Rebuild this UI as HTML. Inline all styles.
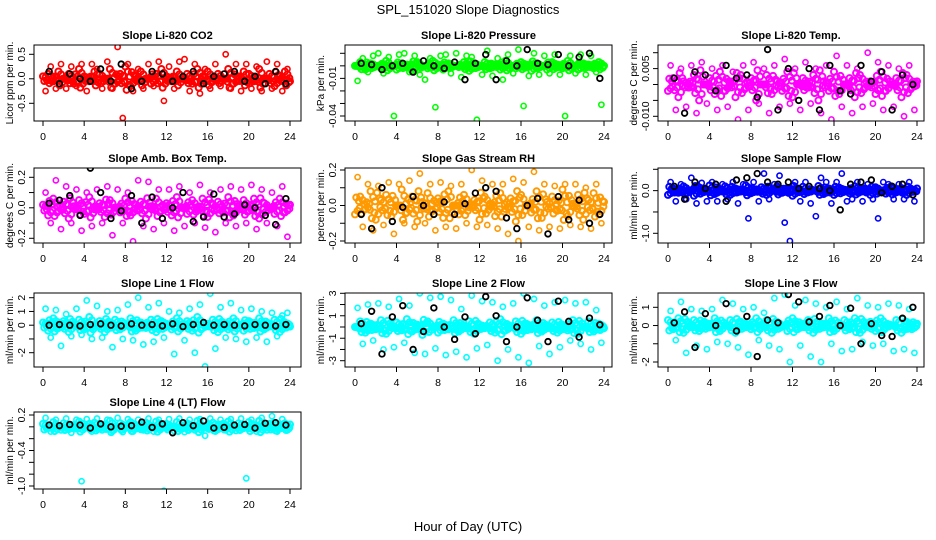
<!DOCTYPE html>
<html><head><meta charset="utf-8"><style>
html,body{margin:0;padding:0;background:#fff;}
svg{display:block;font-family:"Liberation Sans",sans-serif;}
</style></head><body>
<svg id="chart" width="936" height="540" viewBox="0 0 936 540">
<text x="468" y="14" text-anchor="middle" font-size="13">SPL_151020  Slope Diagnostics</text>
<text x="468" y="531" text-anchor="middle" font-size="13">Hour of Day (UTC)</text>
</svg>
<script>
const hrsBand=[0,0.5,1,1.5,2,2.5,3,3.5,4,4.5,5,5.5,6,6.5,7,7.5,8,8.5,9,9.5,10,10.5,11,11.5,12,12.5,13,13.5,14,14.5,15,15.5,16,16.5,17,17.5,18,18.5,19,19.5,20,20.5,21,21.5,22,22.5,23,23.5,24];
const hrsOut=[0.25,0.75,1.25,1.75,2.25,2.75,3.25,3.75,4.25,4.75,5.25,5.75,6.25,6.75,7.25,7.75,8.25,8.75,9.25,9.75,10.25,10.75,11.25,11.75,12.25,12.75,13.25,13.75,14.25,14.75,15.25,15.75,16.25,16.75,17.25,17.75,18.25,18.75,19.25,19.75,20.25,20.75,21.25,21.75,22.25,22.75,23.25,23.75];
const hrsBlack=[0.6,1.6,2.6,3.6,4.6,5.6,6.6,7.6,8.6,9.6,10.6,11.6,12.6,13.6,14.6,15.6,16.6,17.6,18.6,19.6,20.6,21.6,22.6,23.6];
const xTicks=[0,4,8,12,16,20,24];

const co2Band=[0.05,0.1,-0.05,0.15,0.0,0.1,-0.1,0.2,0.05,-0.05,0.15,0.1,0.0,0.2,-0.1,0.1,0.25,-0.15,0.05,0.15,0.0,-0.1,0.1,0.2,0.05,-0.05,0.15,0.0,0.1,-0.1,0.2,0.05,0.15,-0.05,0.1,0.0,0.2,-0.1,0.05,0.15,0.1,-0.05,0.2,0.0,0.1,-0.15,0.05,0.15,-0.05];
const co2Out=[-0.25,0.25,-0.2,0.3,-0.2,0.25,-0.15,0.3,-0.25,0.3,0.2,-0.2,0.35,-0.2,0.65,-0.8,0.3,-0.25,0.2,-0.2,0.3,-0.15,0.35,-0.45,0.25,-0.2,0.35,0.4,-0.25,0.3,-0.3,0.2,-0.2,0.3,-0.15,0.5,-0.2,0.3,-0.25,0.3,-0.2,0.25,-0.25,0.35,-0.2,0.3,-0.25,0.2];
const co2Black=[0.15,-0.1,0.1,0.0,-0.05,0.2,-0.05,0.3,-0.2,-0.05,0.15,0.1,-0.05,0.05,0.15,-0.1,0.05,0.1,0.15,-0.05,0.05,-0.1,0.15,-0.1];

const presBand=[0.0,0.003,-0.003,0.002,0.0,-0.002,0.004,0.0,-0.003,0.002,0.001,-0.004,0.003,0.0,-0.002,0.004,0.001,-0.003,0.002,0.0,-0.001,0.003,-0.004,0.002,0.0,0.003,-0.002,0.001,-0.003,0.004,0.0,-0.002,0.003,0.001,-0.004,0.002,0.0,-0.003,0.003,0.001,-0.002,0.004,0.0,-0.003,0.002,0.001,-0.002,0.003,0.0];
const presOut=[-0.012,0.006,-0.005,0.008,0.01,-0.006,0.007,-0.04,0.009,0.01,-0.005,0.008,-0.007,-0.011,0.006,-0.033,0.008,0.009,-0.006,0.01,-0.009,0.008,0.007,-0.043,-0.007,0.012,-0.008,0.006,-0.011,0.009,-0.006,0.013,-0.032,-0.008,0.01,-0.007,0.008,-0.006,0.009,-0.007,-0.04,0.008,-0.006,0.009,-0.007,0.008,-0.005,-0.031];
const presBlack=[0.002,0.001,-0.003,0.0,0.002,-0.005,0.004,0.0,-0.002,0.003,-0.011,0.002,0.009,-0.011,0.004,0.0,0.013,0.002,0.001,0.009,0.0,0.007,0.01,-0.01];

const tempBand=[-0.002,0.002,-0.004,0.001,-0.001,0.003,-0.005,0.0,0.002,-0.003,0.004,-0.002,0.001,-0.004,0.003,-0.001,0.002,-0.005,0.0,0.003,-0.003,0.001,-0.002,0.004,-0.004,0.0,0.002,-0.001,0.003,-0.005,0.001,-0.002,0.004,-0.003,0.0,0.002,-0.004,0.003,-0.001,0.001,-0.003,0.004,-0.002,0.0,0.002,-0.004,0.003,-0.001,0.001];
const tempOut=[0.006,-0.008,0.005,-0.007,0.006,-0.009,0.007,-0.006,0.005,-0.008,0.006,-0.007,0.004,-0.011,0.006,-0.008,0.007,-0.006,0.005,-0.009,0.006,-0.007,0.008,-0.006,0.005,-0.008,0.007,-0.006,0.005,-0.009,0.006,-0.011,0.009,-0.007,0.006,-0.009,0.005,-0.007,0.01,-0.006,0.007,-0.008,0.006,-0.007,0.005,-0.01,0.006,-0.008];
const tempBlack=[0.002,-0.009,0.004,0.003,-0.002,0.006,0.002,0.003,-0.004,0.011,-0.008,0.005,-0.005,0.005,-0.008,0.006,-0.002,-0.003,0.006,0.001,0.004,-0.008,0.003,0.0];

const ambBand=[0.02,-0.05,0.06,-0.02,0.04,-0.07,0.01,0.05,-0.04,0.07,-0.01,0.03,-0.06,0.05,0.0,-0.03,0.06,-0.05,0.02,0.04,-0.07,0.01,0.06,-0.02,0.03,-0.05,0.07,0.0,-0.04,0.05,-0.01,0.06,-0.06,0.02,0.04,-0.03,0.07,-0.05,0.01,0.05,-0.02,0.06,-0.07,0.03,0.0,-0.04,0.06,-0.03,0.02];
const ambOut=[0.1,-0.1,0.18,-0.14,0.14,-0.1,0.12,-0.15,0.1,-0.12,0.12,-0.1,0.14,-0.18,0.12,-0.1,0.1,-0.22,0.18,-0.12,0.17,-0.14,0.12,-0.1,0.12,-0.15,0.14,-0.12,0.1,-0.1,0.15,-0.13,0.1,-0.16,0.12,-0.1,0.14,-0.12,0.12,-0.1,0.15,-0.14,0.12,-0.1,0.1,-0.12,0.14,-0.19];
const ambBlack=[0.03,0.05,0.08,-0.05,0.26,0.1,-0.07,-0.02,0.08,-0.1,0.07,-0.07,0.0,0.1,-0.09,-0.06,0.09,-0.06,-0.04,0.02,0.0,-0.05,-0.11,0.06];

const rhBand=[-0.05,0.05,-0.02,0.08,-0.08,0.03,0.06,-0.06,0.0,0.09,-0.04,0.05,-0.09,0.02,0.07,-0.03,0.04,-0.07,0.08,0.0,-0.05,0.06,-0.01,0.03,-0.08,0.05,0.01,-0.06,0.07,-0.02,0.04,-0.09,0.06,0.0,-0.04,0.08,-0.07,0.02,0.05,-0.03,0.09,-0.06,0.01,0.06,-0.08,0.03,0.07,-0.05,0.02];
const rhOut=[0.16,-0.12,0.12,-0.14,0.11,-0.11,0.13,-0.16,0.12,-0.1,0.14,-0.12,0.18,-0.1,0.12,-0.14,0.13,-0.12,0.11,-0.13,0.12,-0.1,0.2,-0.12,0.14,-0.11,0.12,-0.13,0.12,-0.16,0.15,-0.2,0.13,-0.12,0.19,-0.14,0.12,-0.12,0.11,-0.13,0.12,-0.11,0.12,-0.12,0.1,-0.13,0.12,-0.1];
const rhBlack=[-0.05,-0.13,0.1,-0.09,-0.01,0.05,0.0,-0.05,0.02,-0.05,0.01,0.07,0.1,0.08,-0.07,-0.13,0.0,0.04,-0.16,0.05,-0.08,0.03,-0.1,-0.05];

const sampBand=[-0.1,0.05,-0.05,0.1,0.0,-0.12,0.08,-0.03,0.12,-0.08,0.02,0.1,-0.1,0.05,-0.02,0.12,-0.06,0.03,0.08,-0.1,0.0,0.1,-0.05,0.06,-0.12,0.04,0.09,-0.04,0.0,0.11,-0.08,0.05,-0.1,0.07,0.02,-0.06,0.1,-0.03,0.05,-0.1,0.08,0.0,-0.07,0.1,-0.04,0.06,-0.1,0.03,0.05];
const sampOut=[0.2,-0.25,0.15,-0.2,0.3,-0.3,0.18,-0.25,0.2,-0.25,0.15,-0.2,0.2,-0.3,0.15,-0.65,0.2,-0.25,0.4,-0.2,0.15,0.35,-0.75,-1.18,0.2,-0.25,0.2,-0.3,-0.6,0.3,0.2,-0.3,0.2,0.4,-0.25,-0.2,0.2,-0.25,0.15,-0.2,-0.65,0.2,0.15,-0.2,0.15,-0.2,0.2,-0.25];
const sampBlack=[0.1,-0.2,0.2,0.05,0.15,-0.25,0.25,0.3,0.4,0.2,0.15,0.2,0.05,0.1,0.05,0.0,-0.45,0.15,0.2,0.25,-0.05,0.1,0.15,-0.1];

const l1Band=[0.2,-0.4,0.5,-0.2,0.3,-0.5,0.1,0.4,-0.3,0.6,-0.1,0.3,-0.5,0.2,0.4,-0.3,0.0,0.5,-0.4,0.2,-0.2,0.4,-0.5,0.3,0.1,-0.3,0.5,-0.1,0.3,-0.4,0.6,-0.2,0.1,0.4,-0.5,0.2,-0.3,0.5,0.0,-0.4,0.3,-0.2,0.5,-0.3,0.1,0.4,-0.5,0.2,-0.1];
const l1Out=[1.2,-0.9,1.1,-1.5,0.8,-0.8,1.2,-0.7,1.8,-1.0,1.4,-0.9,1.0,-1.6,1.1,-1.0,1.5,-1.1,2.0,-1.4,1.3,-1.2,1.6,-0.9,1.0,-2.1,0.9,-1.1,1.2,-2.0,1.5,-3.0,2.3,-1.7,1.3,-0.9,1.6,-1.0,1.1,-1.2,1.2,-0.9,1.0,-1.2,0.9,-0.8,0.7,0.9];
const l1Black=[0.0,0.05,0.0,-0.05,0.05,0.1,0.0,-0.05,0.1,0.0,0.05,-0.05,0.1,-0.1,0.05,0.2,0.0,0.05,0.0,-0.05,0.05,0.0,-0.05,0.05];

const l2Band=[0.0,0.5,-0.5,0.3,-0.2,0.6,-0.6,0.1,0.4,-0.3,0.7,-0.4,0.2,-0.7,0.5,0.0,-0.5,0.3,-0.2,0.6,-0.4,0.1,0.5,-0.6,0.2,-0.1,0.4,-0.5,0.7,-0.3,0.0,0.5,-0.6,0.3,-0.2,0.6,-0.4,0.1,0.4,-0.5,0.2,-0.3,0.6,-0.6,0.0,0.5,-0.4,0.3,-0.1];
const l2Out=[1.7,-1.5,2.0,-1.2,2.1,-2.0,1.8,-1.8,2.5,-1.4,1.9,-2.3,3.0,-2.4,2.6,-1.9,2.7,-2.5,2.4,-2.2,1.6,-2.7,2.8,-1.9,2.3,-1.6,2.2,-3.0,1.8,-2.0,2.1,-2.7,3.0,-3.2,2.5,-1.7,1.9,-2.4,2.2,-1.8,2.4,-1.2,2.1,-1.5,2.2,-2.0,1.5,-1.4];
const l2Black=[0.3,1.4,-2.4,0.9,1.9,-2.0,-0.4,1.7,0.0,-1.1,0.9,-0.6,2.7,1.0,-1.3,0.0,2.6,0.6,-1.3,2.3,0.5,-0.9,0.8,0.2];

const l3Band=[0.3,-0.2,0.4,-0.4,0.1,0.3,-0.3,0.2,-0.1,0.4,-0.3,0.0,0.3,-0.4,0.2,0.1,-0.2,0.4,-0.1,0.3,-0.4,0.2,0.0,-0.3,0.4,-0.2,0.1,0.3,-0.4,0.2,-0.1,0.4,-0.3,0.0,0.3,-0.2,0.4,-0.4,0.1,0.2,-0.3,0.4,-0.1,0.0,0.3,-0.4,0.2,-0.2,0.1];
const l3Out=[0.8,-0.8,1.3,-1.5,0.9,-1.1,0.8,-1.3,0.9,-0.9,1.4,-1.0,1.2,-1.2,0.9,-1.6,1.0,-0.8,0.7,-1.1,1.5,-1.3,1.7,-2.0,1.1,-1.1,1.4,-1.7,1.2,-2.0,1.0,-1.0,1.3,-1.4,0.9,-1.3,1.5,-0.9,1.1,-1.1,1.0,-1.0,1.2,-1.4,1.1,-1.3,0.9,-1.5];
const l3Black=[0.15,0.75,-1.2,0.65,0.0,1.2,-0.3,0.5,-1.7,0.3,0.15,1.7,1.3,0.2,0.5,1.1,0.0,0.95,-1.0,0.1,-0.55,-0.6,0.4,1.0];

const l4Band=[0.05,-0.02,0.08,0.0,0.06,-0.04,0.03,0.09,-0.01,0.05,0.07,-0.03,0.04,0.1,0.0,0.06,-0.02,0.08,0.03,-0.04,0.07,0.01,0.09,-0.02,0.05,0.0,0.08,-0.03,0.06,0.02,0.1,-0.01,0.04,0.07,-0.04,0.05,0.09,0.0,0.06,-0.02,0.08,0.03,0.1,-0.01,0.05,0.07,-0.03,0.06,0.04];
const l4Out=[0.15,-0.08,0.12,-0.06,0.14,-0.1,0.12,-0.92,0.13,-0.08,0.14,-0.06,0.12,-0.07,0.15,-0.09,0.13,-0.08,0.12,-0.06,0.14,-0.08,0.12,-1.08,0.13,-0.07,0.14,-0.09,0.12,-0.06,0.13,-0.15,0.14,-0.08,0.12,-0.06,0.13,-0.07,0.14,-0.87,0.12,-0.08,0.15,-0.06,0.18,-0.08,0.13,-0.06];
const l4Black=[0.03,0.02,0.04,0.03,-0.02,0.05,0.0,0.01,0.02,0.08,-0.01,0.05,-0.1,0.07,0.02,0.1,-0.02,-0.01,0.03,0.04,-0.02,0.06,0.07,0.03];

const NS="http://www.w3.org/2000/svg";
const svg=document.getElementById('chart');
function mk(tag,attrs,parent){const e=document.createElementNS(NS,tag);for(const k in attrs)e.setAttribute(k,attrs[k]);(parent||svg).appendChild(e);return e;}
const cols=[{l:34,r:301,x0:43,x24:290,ylab:9},{l:345,r:612,x0:355,x24:604,ylab:320},{l:658,r:924,x0:668,x24:917,ylab:633}];
const rows=[{t:45,b:121},{t:168,b:243},{t:293,b:367},{t:412,b:489}];
const panels=[
 {id:'co2',c:0,r:0,title:'Slope Li-820 CO2',ylab:'Licor ppm per min.',col:'#ff0000',band:co2Band,out:co2Out,blk:co2Black,v1:0.5,p1:54.3,v2:-0.5,p2:103.3,ticks:[0.5,0,-0.5],labs:['0.5','0.0','-0.5']},
 {id:'pressure',c:1,r:0,title:'Slope Li-820 Pressure',ylab:'kPa per min.',col:'#00ff00',band:presBand,out:presOut,blk:presBlack,v1:0.01,p1:53.3,v2:-0.04,p2:116,ticks:[0.01,0,-0.01,-0.02,-0.03,-0.04],labs:['','','-0.01','','','-0.04']},
 {id:'temp',c:2,r:0,title:'Slope Li-820 Temp.',ylab:'degrees C per min.',col:'#ff00ff',band:tempBand,out:tempOut,blk:tempBlack,v1:0.01,p1:52.7,v2:-0.01,p2:116.3,ticks:[0.01,0.005,0,-0.005,-0.01],labs:['','0.005','','','-0.010']},
 {id:'amb-box-temp',c:0,r:1,title:'Slope Amb. Box Temp.',ylab:'degrees C per min.',col:'#ff00ff',band:ambBand,out:ambOut,blk:ambBlack,v1:0.2,p1:177.3,v2:-0.2,p2:238.3,ticks:[0.2,0.1,0,-0.1,-0.2],labs:['0.2','','0.0','','-0.2']},
 {id:'gas-stream-rh',c:1,r:1,title:'Slope Gas Stream RH',ylab:'percent per min.',col:'#ff9900',band:rhBand,out:rhOut,blk:rhBlack,v1:0.2,p1:170,v2:-0.2,p2:241,ticks:[0.2,0.1,0,-0.1,-0.2],labs:['0.2','','0.0','','-0.2']},
 {id:'sample-flow',c:2,r:1,title:'Slope Sample Flow',ylab:'ml/min per min.',col:'#0000ff',band:sampBand,out:sampOut,blk:sampBlack,v1:0.5,p1:169.3,v2:-1,p2:233.3,ticks:[0.5,0,-0.5,-1],labs:['','0.0','','-1.0']},
 {id:'line1-flow',c:0,r:2,title:'Slope Line 1 Flow',ylab:'ml/min per min.',col:'#00ffff',band:l1Band,out:l1Out,blk:l1Black,v1:2,p1:297.7,v2:-2,p2:352.7,ticks:[2,1,0,-1,-2],labs:['2','1','0','','-2']},
 {id:'line2-flow',c:1,r:2,title:'Slope Line 2 Flow',ylab:'ml/min per min.',col:'#00ffff',band:l2Band,out:l2Out,blk:l2Black,v1:3,p1:293.3,v2:-3,p2:360.7,ticks:[3,2,1,0,-1,-2,-3],labs:['3','','1','','-1','','-3']},
 {id:'line3-flow',c:2,r:2,title:'Slope Line 3 Flow',ylab:'ml/min per min.',col:'#00ffff',band:l3Band,out:l3Out,blk:l3Black,v1:1,p1:307.3,v2:-2,p2:362,ticks:[1,0,-1,-2],labs:['1','0','','-2']},
 {id:'line4-flow',c:0,r:3,title:'Slope Line 4 (LT) Flow',ylab:'ml/min per min.',col:'#00ffff',band:l4Band,out:l4Out,blk:l4Black,v1:0.2,p1:415,v2:-1.0,p2:486,ticks:[0.2,0,-0.2,-0.4,-0.6,-0.8,-1.0],labs:['0.2','','','-0.4','','','-1.0']}
];
// band replicas: hour offset and value scale applied to each band value (dense overlapping band)
const bandPasses=[[0,1],[0.125,-0.9],[0.25,0.6],[0.375,-0.5],[-0.06,-0.3]];
panels.forEach(p=>{
 const C=cols[p.c],R=rows[p.r];
 const xs=h=>C.x0+(C.x24-C.x0)*h/24;
 const ys=v=>p.p1+(p.p2-p.p1)*(v-p.v1)/(p.v2-p.v1);
 const g=mk('g',{});
 
 
 const clip=mk('clipPath',{id:'clip-'+p.id},g);
 mk('rect',{x:C.l,y:R.t,width:C.r-C.l,height:R.b-R.t},clip);
 const pts=mk('g',{'clip-path':'url(#clip-'+p.id+')'},g);
 
 
 bandPasses.forEach(bp=>{
  p.band.forEach((v,i)=>{const h=hrsBand[i]+bp[0];if(h<0||h>24)return;
   const c=mk('circle',{cx:xs(h),cy:ys(v*bp[1]),r:3,fill:'none',stroke:p.col,'stroke-width':2},pts);
   
   });
 });
 p.out.forEach((v,i)=>{const c=mk('circle',{cx:xs(hrsOut[i]),cy:ys(v),r:2.6,fill:'none',stroke:p.col,'stroke-width':1.6},pts);
  
  });
 p.blk.forEach((v,i)=>{const c=mk('circle',{cx:xs(hrsBlack[i]),cy:ys(v),r:2.8,fill:'none',stroke:'#000','stroke-width':1.8},pts);
  
  });
 const box=mk('rect',{x:C.l,y:R.t,width:C.r-C.l,height:R.b-R.t,fill:'none',stroke:'#000','stroke-width':1},g);
 
 
 const t=mk('text',{x:(C.l+C.r)/2,y:R.t-6,'text-anchor':'middle','font-size':11,'font-weight':'bold'},g);
 t.textContent=p.title;
 
 
 xTicks.forEach(h=>{const x=xs(h);mk('line',{x1:x,x2:x,y1:R.b,y2:R.b+5,stroke:'#000'},g);
  const tl=mk('text',{x:x,y:R.b+19,'text-anchor':'middle','font-size':10.5},g);tl.textContent=h;
  
  });
 p.ticks.forEach((v,i)=>{const y=ys(v);mk('line',{x1:C.l,x2:C.l-5,y1:y,y2:y,stroke:'#000'},g);
  if(p.labs[i]){const tl=mk('text',{x:C.l-9,y:y,'text-anchor':'middle','font-size':10.5,transform:'rotate(-90 '+(C.l-9)+' '+y+')'},g);tl.textContent=p.labs[i];
  
  }});
 const ym=(R.t+R.b)/2;
 const yl=mk('text',{x:C.ylab+4,y:ym,'text-anchor':'middle','font-size':10,transform:'rotate(-90 '+(C.ylab+4)+' '+ym+')'},g);
 yl.textContent=p.ylab;
 
 
});
</script>
</body></html>
